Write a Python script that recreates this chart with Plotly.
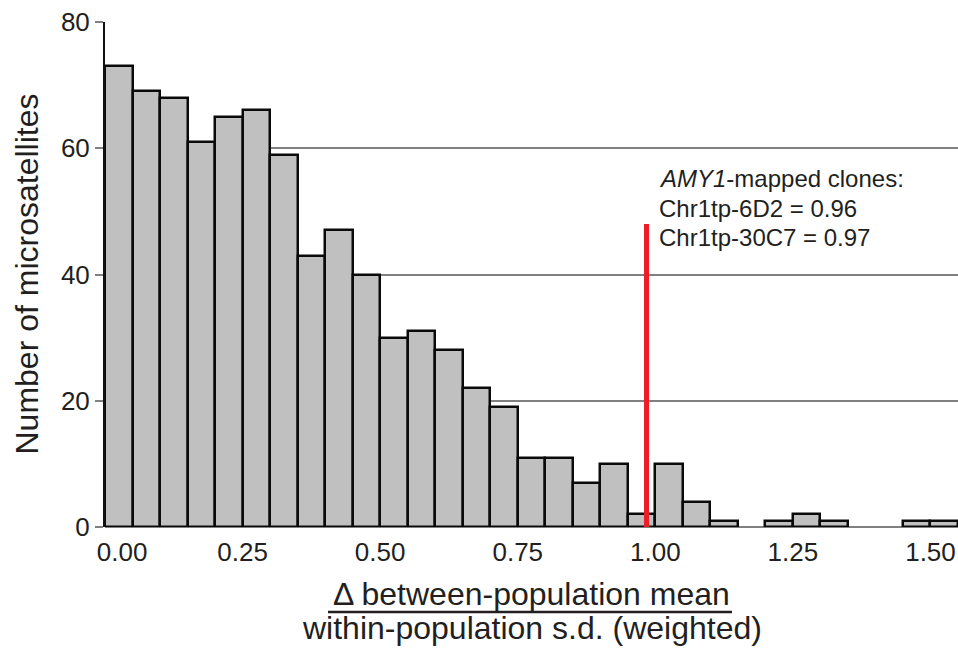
import plotly.graph_objects as go

# ---- data ----
bin_left = [0.00, 0.05, 0.10, 0.15, 0.20, 0.25, 0.30, 0.35, 0.40, 0.45,
            0.50, 0.55, 0.60, 0.65, 0.70, 0.75, 0.80, 0.85, 0.90, 0.95,
            1.00, 1.05, 1.10, 1.15, 1.20, 1.25, 1.30, 1.35, 1.40, 1.45, 1.50]
counts = [73, 69, 68, 61, 65, 66, 59, 43, 47, 40,
          30, 31, 28, 22, 19, 11, 11, 7, 10, 2,
          10, 4, 1, 0, 1, 2, 1, 0, 0, 1, 1]
bin_width = 0.05
x_tick_vals = [0.00, 0.25, 0.50, 0.75, 1.00, 1.25, 1.50]
x_tick_text = ["0.00", "0.25", "0.50", "0.75", "1.00", "1.25", "1.50"]
y_tick_vals = [0, 20, 40, 60, 80]
marker_value = 0.984      # AMY1 clones position (as drawn)
marker_height = 48
annot_lines = ["<i>AMY1</i>-mapped clones:", "Chr1tp-6D2 = 0.96", "Chr1tp-30C7 = 0.97"]
x_title_top = "Δ between-population mean"
x_title_bottom = "within-population s.d. (weighted)"
y_title = "Number of microsatellites"

FONT = "Liberation Sans, Arial, Helvetica, sans-serif"
TXT = "#231f20"

centers = [b + bin_width / 2 for b in bin_left]
line_w = [2.5 if c > 0 else 0 for c in counts]

fig = go.Figure()
fig.add_trace(go.Bar(
    x=centers, y=counts, width=bin_width,
    marker=dict(color="#c0c0c0", line=dict(color="#0a0a0a", width=line_w)),
    hoverinfo="x+y",
))

# tick positions: first label drawn slightly right of the axis as in the reference
tick_pos = list(x_tick_vals)
tick_pos[0] = tick_pos[0] + 0.031

fig.update_layout(
    width=958, height=649,
    margin=dict(l=105, r=0, t=22, b=122),
    plot_bgcolor="white", paper_bgcolor="white",
    font=dict(family=FONT, color=TXT),
    showlegend=False,
    bargap=0,
    xaxis=dict(
        range=[0, 1.55], tickvals=tick_pos, ticktext=x_tick_text,
        showgrid=False, zeroline=False, showline=False,
        ticks="outside", ticklen=2, tickcolor="rgba(0,0,0,0)",
        tickfont=dict(size=26, family=FONT, color=TXT),
        fixedrange=True,
    ),
    yaxis=dict(
        range=[0, 80], tickvals=y_tick_vals,
        showgrid=True, gridcolor="#808080", gridwidth=1.5,
        zeroline=True, zerolinecolor="#808080", zerolinewidth=1.5,
        showline=True, linecolor="#111111", linewidth=2,
        ticks="outside", ticklen=8, tickcolor="#808080", tickwidth=1.5,
        tickfont=dict(size=26, family=FONT, color=TXT),
        fixedrange=True,
    ),
)

# red marker line
fig.add_shape(type="line", xref="x", yref="y",
              x0=marker_value, x1=marker_value, y0=0, y1=marker_height,
              line=dict(color="#ee1c25", width=5), layer="above")

# annotation text lines
line_centers_px = [178, 208, 237]
for txt, cy in zip(annot_lines, line_centers_px):
    fig.add_annotation(xref="paper", yref="paper",
                       x=(657 - 105) / 853, y=(527 - cy) / 505,
                       xanchor="left", yanchor="middle", showarrow=False,
                       text=txt, font=dict(size=24, family=FONT, color=TXT))

# x-axis title as a fraction
fig.add_annotation(xref="paper", yref="paper", x=0.5, y=0, yshift=-67,
                   xanchor="center", yanchor="middle", showarrow=False,
                   text=x_title_top, font=dict(size=32, family=FONT, color=TXT))
fig.add_annotation(xref="paper", yref="paper", x=0.5, y=0, yshift=-121,
                   xanchor="center", yanchor="bottom", showarrow=False,
                   text=x_title_bottom, font=dict(size=32, family=FONT, color=TXT))
fig.add_shape(type="line", xref="paper", yref="paper",
              x0=(328 - 105) / 853, x1=(732 - 105) / 853,
              y0=(527 - 612) / 505, y1=(527 - 612) / 505,
              line=dict(color=TXT, width=2.5))

# y-axis title
fig.add_annotation(xref="paper", yref="paper", x=0, xshift=-79, y=0.5,
                   xanchor="center", yanchor="middle", showarrow=False,
                   textangle=-90, text=y_title,
                   font=dict(size=32, family=FONT, color=TXT))

fig.write_html("out.html")
